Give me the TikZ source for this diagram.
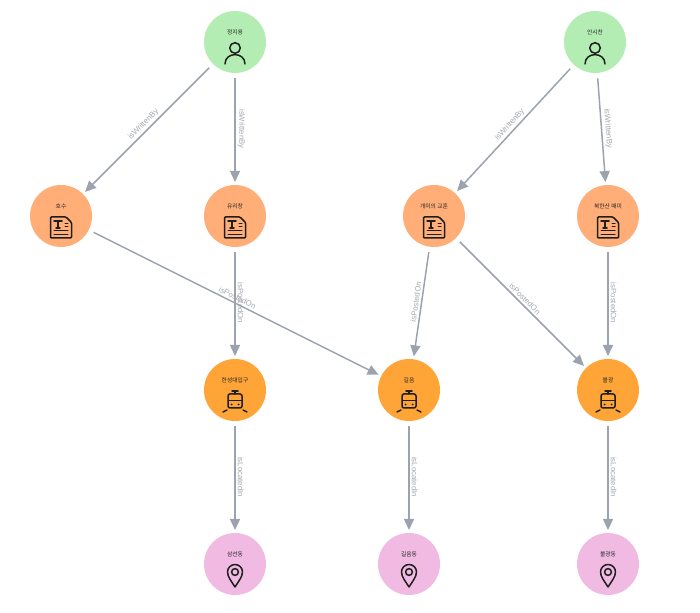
\documentclass[tikz,border=0pt]{standalone}
\usepackage{fontspec}
\setmainfont{Noto Sans CJK KR}
\newfontfamily\edgefont{Liberation Sans}
\usetikzlibrary{arrows.meta}
\definecolor{cperson}{HTML}{B3EDB3}
\definecolor{cpoem}{HTML}{FFAE78}
\definecolor{cstation}{HTML}{FFA436}
\definecolor{cplace}{HTML}{F0BAE3}
\definecolor{cedge}{HTML}{9CA3AF}
\definecolor{clabel}{HTML}{A4A8AE}
\definecolor{cicon}{HTML}{1F1F1F}
\tikzset{
  x=1pt,y=1pt,
  entity/.style={circle,minimum size=62pt,inner sep=0pt,outer sep=3pt,
    label={[font=\fontsize{5.8}{6}\selectfont,text=black!70!gray,inner sep=0pt]center:\raisebox{19pt}{#1}}},
  person/.style={entity=#1,fill=cperson},
  poem/.style={entity=#1,fill=cpoem},
  station/.style={entity=#1,fill=cstation},
  place/.style={entity=#1,fill=cplace},
  rel/.style={draw=cedge,line width=1.5pt,-{Triangle[length=11pt,width=10pt]},shorten <=2.5pt},
  rellabel/.style={font=\edgefont\fontsize{7.8}{9}\selectfont,text=clabel,sloped,above,inner sep=2pt},
  icon/.style={draw=cicon,line width=1.5pt,line join=round,line cap=round},
  pics/personicon/.style={code={
    \draw[icon] (0,-6) circle (5.3);
    \draw[icon] (-10,-22) .. controls (-10,-9.5) and (10,-9.5) .. (10,-22);
  }},
  pics/poemicon/.style={code={
    \draw[icon,rounded corners=1pt] (-10.5,-1) -- (5,-1) -- (10.5,-6.5) -- (10.5,-22) -- (-10.5,-22) -- cycle;
    \draw[icon,line width=1.5pt] (-7,-5) -- (1,-5) (-3,-5) -- (-3,-12) (-5,-12) -- (-1,-12);
    \draw[icon,line width=1pt] (4,-7.5) -- (7,-7.5) (4,-11) -- (7,-11);
    \draw[icon,line width=1pt] (-7,-15) -- (7,-15) (-7,-18.5) -- (7,-18.5);
  }},
  pics/stationicon/.style={code={
    \draw[icon] (-3,-1) -- (3,-1) (0,-1) -- (0,-4);
    \draw[icon,rounded corners=2pt] (-7,-18) -- (-7,-4) -- (7,-4) -- (7,-18) -- cycle;
    \draw[icon,line width=1pt] (-7,-11) -- (7,-11);
    \fill[cicon] (-3.5,-14.5) circle (1) (3.5,-14.5) circle (1);
    \draw[icon] (-8,-20) -- (-12,-22) (8,-20) -- (12,-22);
  }},
  pics/placeicon/.style={code={
    \draw[icon] (0,-23) .. controls (-3,-18) and (-7.5,-13) .. (-7.5,-8)
      arc[start angle=180,end angle=0,radius=7.5]
      .. controls (7.5,-13) and (3,-18) .. (0,-23) -- cycle;
    \draw[icon] (0,-8) circle (3.4);
  }},
}
\begin{document}
\begin{tikzpicture}
\useasboundingbox (0,0) rectangle (700,612);
\node[person=정지용] (p1) at (235,570) {};
\node[person=안시찬] (p2) at (595,570) {};
\node[poem=호수] (d1) at (61,396) {};
\node[poem=유리창] (d2) at (235,396) {};
\node[poem=개미의 교훈] (d3) at (434,396) {};
\node[poem=북한산 매미] (d4) at (608,396) {};
\node[station=한성대입구] (s1) at (235,222) {};
\node[station=길음] (s2) at (409,222) {};
\node[station=불광] (s3) at (608,222) {};
\node[place=삼선동] (l1) at (235,48) {};
\node[place=길음동] (l2) at (409,48) {};
\node[place=불광동] (l3) at (608,48) {};
\pic at (p1.center) {personicon};
\pic at (p2.center) {personicon};
\pic at (d1.center) {poemicon};
\pic at (d2.center) {poemicon};
\pic at (d3.center) {poemicon};
\pic at (d4.center) {poemicon};
\pic at (s1.center) {stationicon};
\pic at (s2.center) {stationicon};
\pic at (s3.center) {stationicon};
\pic at (l1.center) {placeicon};
\pic at (l2.center) {placeicon};
\pic at (l3.center) {placeicon};
\draw[rel] (p1) -- node[rellabel] {isWrittenBy} (d1);
\draw[rel] (p1) -- node[rellabel] {isWrittenBy} (d2);
\draw[rel] (p2) -- node[rellabel] {isWrittenBy} (d3);
\draw[rel] (p2) -- node[rellabel] {isWrittenBy} (d4);
\draw[rel] (d1) -- node[rellabel] {isPostedOn} (s2);
\draw[rel] (d2) -- node[rellabel] {isPostedOn} (s1);
\draw[rel] (d3) -- node[rellabel] {isPostedOn} (s2);
\draw[rel] (d3) -- node[rellabel] {isPostedOn} (s3);
\draw[rel] (d4) -- node[rellabel] {isPostedOn} (s3);
\draw[rel] (s1) -- node[rellabel] {isLocatedIn} (l1);
\draw[rel] (s2) -- node[rellabel] {isLocatedIn} (l2);
\draw[rel] (s3) -- node[rellabel] {isLocatedIn} (l3);
\end{tikzpicture}
\end{document}
